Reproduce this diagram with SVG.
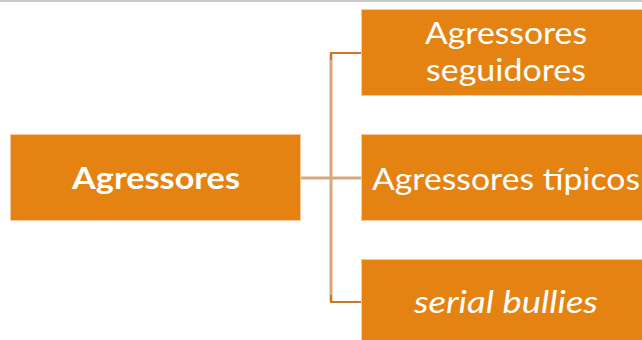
<svg xmlns="http://www.w3.org/2000/svg" width="642" height="340" viewBox="0 0 642 340">
<style>
.box{fill:#E48312;stroke:#F4C9A0;stroke-width:1}
.t{fill:#FFFFFF;font-family:Lato,"Open Sans",sans-serif;font-size:30px;text-anchor:middle}
.ln{fill:none;stroke:#D9A878;stroke-width:3}
.st{fill:none;stroke:#C9782A;stroke-width:2}
</style>
<rect x="0" y="0" width="642" height="340" fill="#FFFFFF"/>
<line x1="0" y1="1" x2="642" y2="1" stroke="#C8C8C8" stroke-width="2"/>
<g id="connectors">
<line class="ln" x1="301" y1="178" x2="361" y2="178"/>
<line class="ln" x1="331" y1="53" x2="331" y2="302"/>
<polyline class="st" points="361,53 331,53 331,60"/>
<polyline class="st" points="331,295 331,302 361,302"/>
</g>
<g id="n-agressores">
<rect class="box" x="10.5" y="134.5" width="290" height="86"/>
<text class="t" x="156" y="189" font-weight="bold" textLength="168" lengthAdjust="spacingAndGlyphs">Agressores</text>
</g>
<g id="n-seguidores">
<rect class="box" x="361.5" y="9.5" width="290" height="86"/>
<text class="t" x="506" y="44" textLength="162" lengthAdjust="spacingAndGlyphs">Agressores</text>
<text class="t" x="506" y="81" textLength="160" lengthAdjust="spacingAndGlyphs">seguidores</text>
</g>
<g id="n-tipicos">
<rect class="box" x="361.5" y="134.5" width="290" height="86"/>
<text class="t" x="506" y="190" textLength="268" lengthAdjust="spacingAndGlyphs">Agressores típicos</text>
</g>
<g id="n-serial">
<rect class="box" x="361.5" y="259.5" width="290" height="86"/>
<text class="t" x="506" y="313" font-style="italic" textLength="184" lengthAdjust="spacingAndGlyphs">serial bullies</text>
</g>
</svg>
